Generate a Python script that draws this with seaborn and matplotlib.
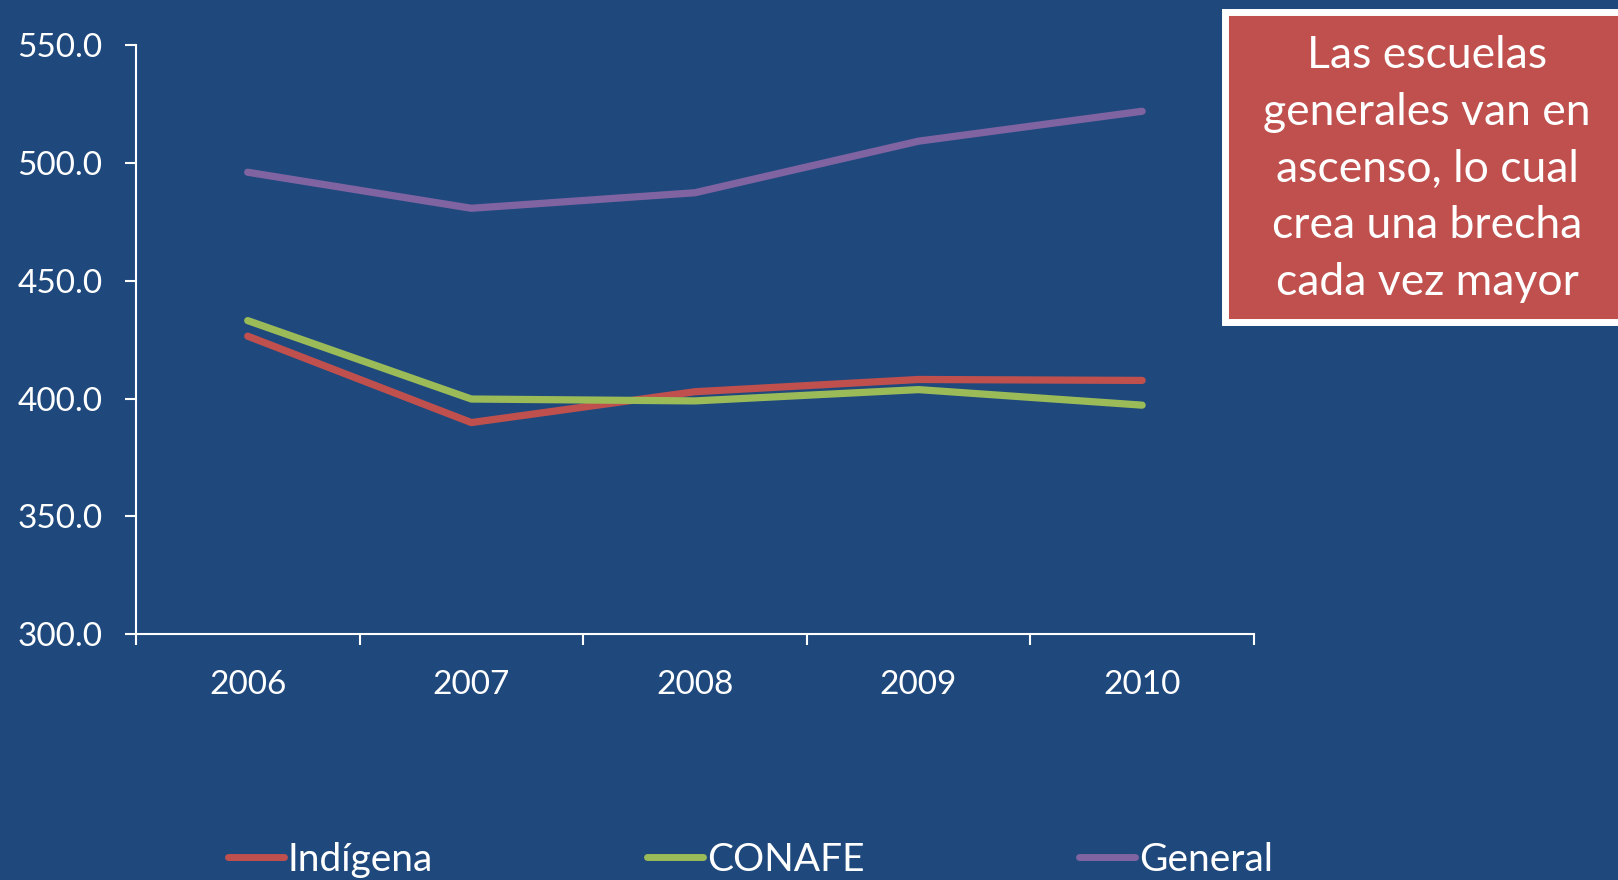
import pandas as pd
import seaborn as sns
import matplotlib.pyplot as plt
from matplotlib.patches import Rectangle

# Chart data
years = [2006, 2007, 2008, 2009, 2010]
indigena = [426.5, 389.8, 402.9, 408.1, 407.7]
conafe = [433.1, 399.8, 399.0, 403.8, 397.2]
general = [496.1, 480.8, 487.4, 509.3, 522.0]
series_names = ["Indígena", "CONAFE", "General"]
y_ticks = [300, 350, 400, 450, 500, 550]
note = "Las escuelas\ngenerales van en\nascenso, lo cual\ncrea una brecha\ncada vez mayor"

bg = "#1F497D"
colors = ["#C0504D", "#9BBB59", "#8064A2"]

sns.set_style("ticks")
plt.rcParams["font.family"] = ["Lato", "DejaVu Sans"]

# long-form table for seaborn
df = pd.DataFrame({
    "year": years * 3,
    "score": indigena + conafe + general,
    "tipo": [n for n in series_names for _ in years],
})

fig = plt.figure(figsize=(16.18, 8.8), dpi=100, facecolor=bg)
ax = fig.add_axes([0.084, 0.2795, 0.691, 0.669])
ax.set_facecolor(bg)

sns.lineplot(data=df, x="year", y="score", hue="tipo", palette=colors,
             linewidth=5.2, ax=ax, legend=False, solid_capstyle="round")

ax.set_xlim(2005.5, 2010.5)
ax.set_ylim(300, 550)
ax.set_yticks(y_ticks)
ax.set_yticklabels([f"{v:.1f}" for v in y_ticks])
ax.set_xticks(years)
ax.set_xticks([y - 0.5 for y in years] + [2010.5], minor=True)
ax.set_xlabel("")
ax.set_ylabel("")

for side in ["top", "right"]:
    ax.spines[side].set_visible(False)
for side in ["left", "bottom"]:
    ax.spines[side].set_color("white")
    ax.spines[side].set_linewidth(1.5)

ax.tick_params(axis="y", colors="white", labelsize=24, length=8, width=1.5, pad=16)
ax.tick_params(axis="x", which="major", colors="white", labelsize=24, length=0, pad=26)
ax.tick_params(axis="x", which="minor", colors="white", length=8, width=1.5)

# legend along the bottom
handles = [plt.Line2D([], [], color=c, linewidth=5, solid_capstyle="round") for c in colors]
leg = fig.legend(handles, series_names, loc="center left", bbox_to_anchor=(0.131, 0.023),
                 ncol=3, frameon=False, fontsize=28, handlelength=1.45, handletextpad=0.1,
                 columnspacing=5.5, borderaxespad=0)
for t in leg.get_texts():
    t.set_color("white")

# annotation box, top right
fig.patches.append(Rectangle((1225 / 1618, 1 - 322 / 880), 0.3, 310 / 880,
                             transform=fig.transFigure, facecolor="#C0504D",
                             edgecolor="white", linewidth=5, zorder=5))
fig.text(1427 / 1618, 1 - 169 / 880, note, color="white", fontsize=32,
         ha="center", va="center", linespacing=1.48, zorder=6)

fig.savefig("out.png", dpi=100, facecolor=bg)
